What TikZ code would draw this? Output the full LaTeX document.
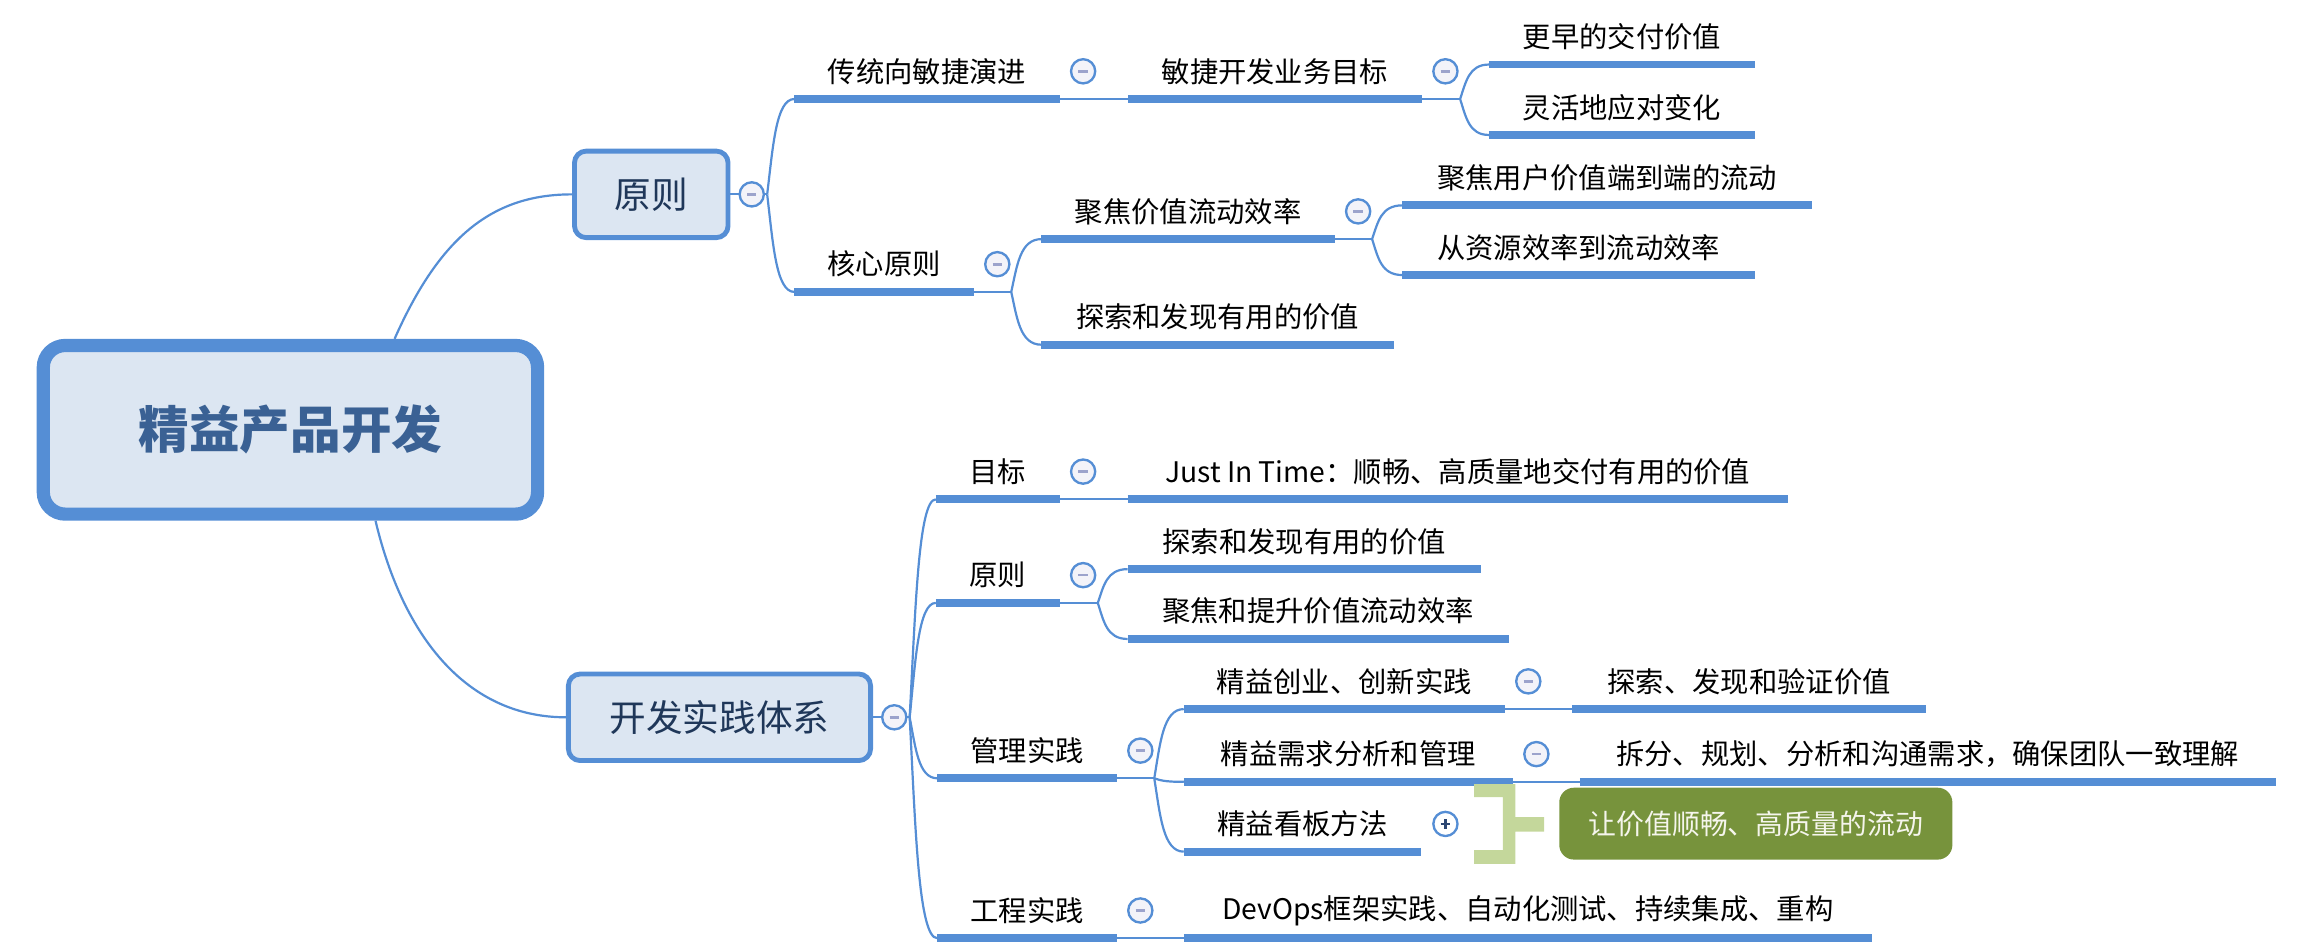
\documentclass[tikz,border=0pt]{standalone}
\usepackage{fontspec}
\setmainfont{Noto Sans CJK SC}
\usetikzlibrary{calc}

\definecolor{lineblue}{HTML}{558ED5}
\definecolor{boxfill}{HTML}{DCE6F2}
\definecolor{roottext}{HTML}{3A6194}
\definecolor{boxtext}{HTML}{1F3759}
\definecolor{btnfill}{HTML}{F3F3F9}
\definecolor{btnminus}{HTML}{9CA3CC}
\definecolor{btnplus}{HTML}{2C4672}
\definecolor{sumfill}{HTML}{77933C}
\definecolor{sumbracket}{HTML}{C4D79B}
\definecolor{sumtext}{HTML}{F5F5EC}

\pgfdeclarelayer{bg}
\pgfsetlayers{bg,main}

\begin{document}
\begin{tikzpicture}[x=1pt,y=-1pt,
  rootbox/.style={draw=lineblue, line width=9pt, fill=boxfill, rounded corners=15pt,
    minimum width=337pt, minimum height=115pt, inner sep=0pt, text=roottext,
    font=\fontsize{34.5}{40}\selectfont\bfseries},
  mainbox/.style={draw=lineblue, line width=3.3pt, fill=boxfill, rounded corners=8pt,
    minimum height=59pt, inner sep=0pt, text=boxtext, font=\fontsize{25}{30}\selectfont},
  topic/.style={minimum width=#1, minimum height=37.4pt, inner sep=0pt, anchor=south west,
    font=\fontsize{19.3}{23}\selectfont},
  uline/.style={draw=lineblue, line width=5.3pt},
  link/.style={draw=lineblue, line width=1.5pt},
  fork/.style={link, to path={let \p1=(\tikztostart), \p2=(\tikztotarget) in
    .. controls (\x1+4pt,{0.5*\y1+0.5*\y2}) and (\x1+6pt,\y2) .. (\tikztotarget)}},
  btn/.style={circle, draw=lineblue, line width=1.6pt, fill=btnfill, minimum size=16.5pt, inner sep=0pt},
  minusbtn/.style={btn, path picture={\draw[btnminus, line width=1.8pt]
    ([xshift=-3.2pt]path picture bounding box.center) -- ([xshift=3.2pt]path picture bounding box.center);}},
  plusbtn/.style={btn, fill=white, path picture={\draw[btnplus, line width=1.8pt]
    ([xshift=-3.2pt]path picture bounding box.center) -- ([xshift=3.2pt]path picture bounding box.center)
    ([yshift=-3.2pt]path picture bounding box.center) -- ([yshift=3.2pt]path picture bounding box.center);}},
  sumbox/.style={fill=sumfill, rounded corners=10pt, minimum width=268pt, minimum height=49pt,
    inner sep=0pt, text=sumtext, font=\fontsize{19}{23}\selectfont}
]
\useasboundingbox (0,0) rectangle (1568,649);

% central topic and the two main boxes
\node[rootbox] (root) at (198,293) {精益产品开发};
\node[mainbox, minimum width=104.7pt] (yz) at (444,132.5) {原则};
\node[mainbox, minimum width=206pt] (kf) at (490.5,489) {开发实践体系};

% upper branch
\node[topic=180.5pt] (t1) at (541.5,67.5) {传统向敏捷演进};
\node[topic=200pt]   (t2) at (769,67.5) {敏捷开发业务目标};
\node[topic=181pt]   (t3) at (1015,44) {更早的交付价值};
\node[topic=181pt]   (t4) at (1015,92) {灵活地应对变化};
\node[topic=122pt]   (t5) at (541.5,199) {核心原则};
\node[topic=199.5pt] (t6) at (710,163) {聚焦价值流动效率};
\node[topic=279pt]   (t7) at (956,140) {聚焦用户价值端到端的流动};
\node[topic=240pt]   (t8) at (956,187.5) {从资源效率到流动效率};
\node[topic=239.7pt] (t9) at (710,235) {探索和发现有用的价值};

% lower branch
\node[topic=84pt]    (s1) at (638,340.4) {目标};
\node[topic=449.7pt] (s2) at (768.7,340.4) {Just In Time：顺畅、高质量地交付有用的价值};
\node[topic=84pt]    (s3) at (638,411) {原则};
\node[topic=240.3pt] (s4) at (768.7,388) {探索和发现有用的价值};
\node[topic=259.3pt] (s5) at (768.7,435.6) {聚焦和提升价值流动效率};
\node[topic=122pt]   (s6) at (639,530.6) {管理实践};
\node[topic=218.5pt] (s7) at (807,483.4) {精益创业、创新实践};
\node[topic=240.5pt] (s8) at (1072,483.4) {探索、发现和验证价值};
\node[topic=224pt]   (s9) at (807,533) {精益需求分析和管理};
\node[topic=474pt]   (s10) at (1077,533) {拆分、规划、分析和沟通需求，确保团队一致理解};
\node[topic=161.6pt] (s11) at (807,580.6) {精益看板方法};
\node[topic=122pt]   (s12) at (639,639.6) {工程实践};
\node[topic=468.6pt] (s13) at (807,639.6) {DevOps框架实践、自动化测试、持续集成、重构};

% underlines of the topics
\foreach \n in {t1,t2,t3,t4,t5,t6,t7,t8,t9,s1,s2,s3,s4,s5,s6,s7,s8,s9,s10,s11,s12,s13}
  \draw[uline] (\n.south west) -- (\n.south east);

% fork points
\coordinate (yzb) at ([xshift=25pt]yz.east);
\coordinate (kfb) at ([xshift=25pt]kf.east);
\coordinate (t2b) at ([xshift=26pt]t2.south east);
\coordinate (t5b) at ([xshift=25.5pt]t5.south east);
\coordinate (t6b) at ([xshift=25.5pt]t6.south east);
\coordinate (s3b) at ([xshift=26pt]s3.south east);
\coordinate (s6b) at ([xshift=25.5pt]s6.south east);

% connectors
\begin{pgfonlayer}{bg}
  \draw[link] ([xshift=71pt]root.north) .. controls +(31,-70) and +(-54,0) .. (yz.west);
  \draw[link] ([xshift=58pt]root.south) .. controls +(19,80) and +(-67,0) .. (kf.west);

  \draw[link] (yz.east) -- (yzb);
  \draw[fork] (yzb) to (t1.south west);
  \draw[fork] (yzb) to (t5.south west);
  \draw[link] (t1.south east) -- (t2.south west);
  \draw[link] (t2.south east) -- (t2b);
  \draw[fork] (t2b) to (t3.south west);
  \draw[fork] (t2b) to (t4.south west);
  \draw[link] (t5.south east) -- (t5b);
  \draw[fork] (t5b) to (t6.south west);
  \draw[fork] (t5b) to (t9.south west);
  \draw[link] (t6.south east) -- (t6b);
  \draw[fork] (t6b) to (t7.south west);
  \draw[fork] (t6b) to (t8.south west);

  \draw[link] (kf.east) -- (kfb);
  \draw[fork] (kfb) to (s1.south west);
  \draw[fork] (kfb) to (s3.south west);
  \draw[fork] (kfb) to (s6.south west);
  \draw[fork] (kfb) to (s12.south west);
  \draw[link] (s1.south east) -- (s2.south west);
  \draw[link] (s3.south east) -- (s3b);
  \draw[fork] (s3b) to (s4.south west);
  \draw[fork] (s3b) to (s5.south west);
  \draw[link] (s6.south east) -- (s6b);
  \draw[fork] (s6b) to (s7.south west);
  \draw[fork] (s6b) to (s9.south west);
  \draw[fork] (s6b) to (s11.south west);
  \draw[link] (s7.south east) -- (s8.south west);
  \draw[link] (s9.south east) -- (s10.south west);
  \draw[link] (s12.south east) -- (s13.south west);
\end{pgfonlayer}

% collapse buttons
\node[minusbtn] (yzc) at ([xshift=14.5pt]yz.east) {};
\node[minusbtn] (kfc) at ([xshift=14.5pt]kf.east) {};
\foreach \n in {t1,t2,t5,t6,s1,s3,s6,s7,s9,s12}
  \node[minusbtn] (\n c) at ([xshift=16pt]\n.east) {};
\node[plusbtn] (s11c) at ([xshift=16.4pt]s11.east) {};

% summary bracket and its note
\fill[sumbracket] (1005,534.5) -- (1033,534.5) -- (1033,557) -- (1052.6,557) -- (1052.6,567)
  -- (1033,567) -- (1033,589) -- (1005,589) -- (1005,579.5) -- (1024.6,579.5)
  -- (1024.6,543.4) -- (1005,543.4) -- cycle;
\node[sumbox] (sum) at (1197,561.5) {让价值顺畅、高质量的流动};
\end{tikzpicture}
\end{document}
